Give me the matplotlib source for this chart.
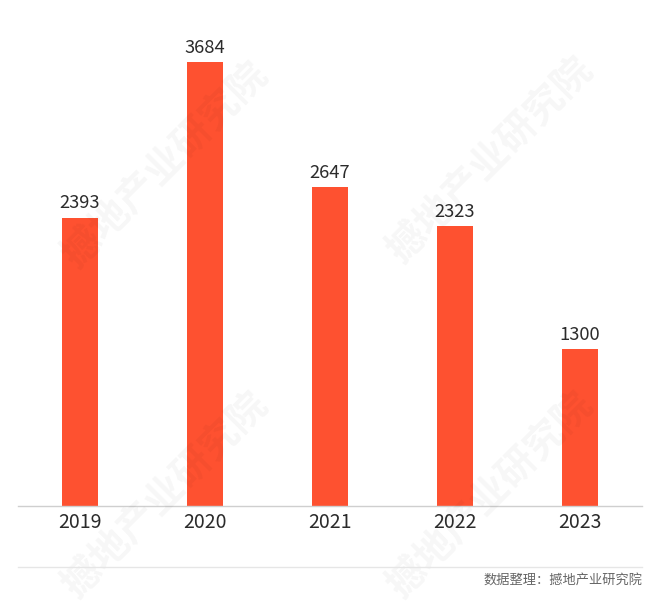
import matplotlib
import matplotlib.pyplot as plt

matplotlib.use("Agg")

plt.rcParams["font.family"] = ["Noto Sans CJK SC", "DejaVu Sans"]

years = ["2019", "2020", "2021", "2022", "2023"]
values = [2393, 3684, 2647, 2323, 1300]
source_note = "数据整理：撼地产业研究院"
watermark = "撼地产业研究院"

W, H = 660, 616
fig = plt.figure(figsize=(W / 100, H / 100), dpi=100)

# axes spans x 18..642 px, baseline at y=506 px
ax = fig.add_axes([18 / W, (H - 506) / H, 624 / W, 482 / H])
ax.set_facecolor("none")

x = list(range(len(years)))
bars = ax.bar(x, values, width=0.288, color="#FE5130", zorder=2)
for rect, v in zip(bars, values):
    ax.text(rect.get_x() + rect.get_width() / 2, v + 45, str(v),
            ha="center", va="bottom", fontsize=13.2, color="#2b2b2b")

ax.set_xlim(-0.496, 4.496)
ax.set_ylim(0, 4000)
ax.set_xticks(x)
ax.set_xticklabels(years, fontsize=14, color="#2b2b2b")
ax.tick_params(axis="x", length=0, pad=4)
ax.set_yticks([])
for side in ["top", "left", "right"]:
    ax.spines[side].set_visible(False)
ax.spines["bottom"].set_color("#cfcfcf")
ax.spines["bottom"].set_linewidth(1.0)

# lower separator line and source note
fig.add_artist(plt.Line2D([18 / W, 642 / W], [(H - 567) / H] * 2,
                          color="#e6e6e6", lw=1.0))
fig.text(642 / W, (H - 581) / H, source_note, ha="right", va="center",
         fontsize=9.5, color="#666666")

# faint diagonal watermarks
for cx, cy in [(165, 165), (490, 160), (165, 495), (490, 495)]:
    fig.text(cx / W, (H - cy) / H, watermark, rotation=45, ha="center",
             va="center", fontsize=28, fontweight="bold", color="#000000",
             alpha=0.035, zorder=0)

fig.savefig("out.png", dpi=100)
